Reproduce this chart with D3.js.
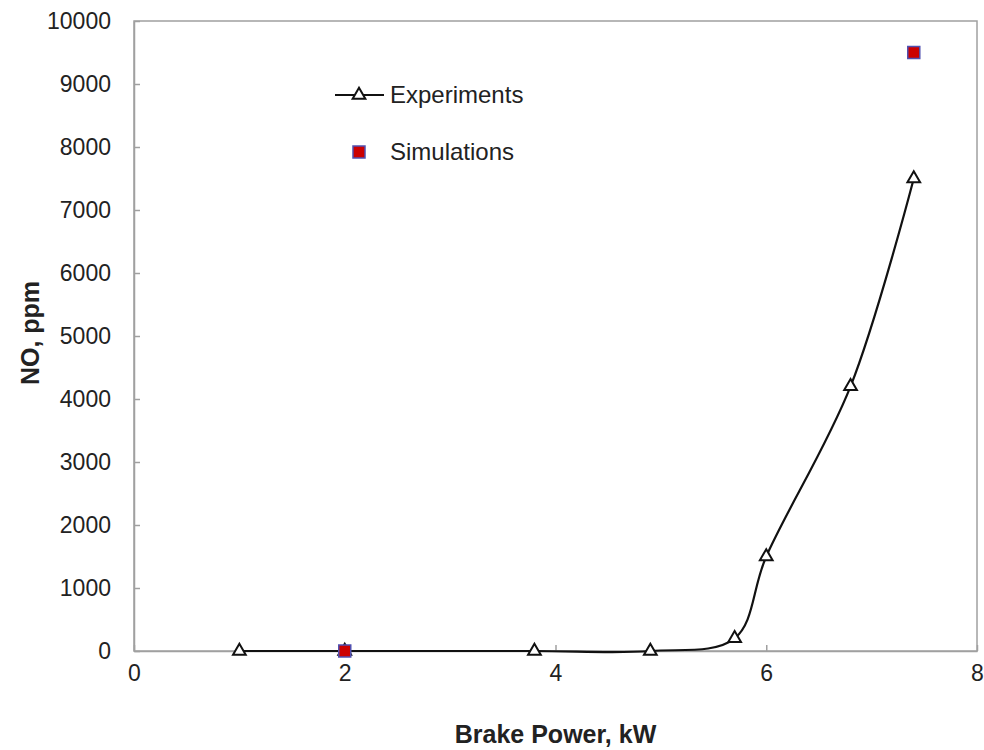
<!DOCTYPE html>
<html>
<head>
<meta charset="utf-8">
<style>
  body { margin: 0; background: #fff; }
  text { font-family: "Liberation Sans", Arial, sans-serif; }
</style>
</head>
<body>
<svg width="984" height="750"></svg>
<script src="https://cdn.jsdelivr.net/npm/d3@7"></script>
<script>
// data
var expPower = [1, 2, 3.8, 4.9, 5.7, 6.0, 6.8, 7.4];
var expNO = [0, 0, 0, 0, 200, 1500, 4200, 7500];
var simPower = [2, 7.4];
var simNO = [0, 9500];
var xTicks = [0, 2, 4, 6, 8];
var yTicks = [0, 1000, 2000, 3000, 4000, 5000, 6000, 7000, 8000, 9000, 10000];

var svgElem = d3.select('svg');
var margin = { left: 134, right: 7, top: 21, bottom: 99 };
var width = +svgElem.attr('width') - margin.left - margin.right;
var height = +svgElem.attr('height') - margin.top - margin.bottom;

var g = svgElem.append('g')
    .attr('transform', `translate(${margin.left}, ${margin.top})`);

var x = d3.scaleLinear().domain([0, 8]).range([0, width]);
var y = d3.scaleLinear().domain([0, 10000]).range([height, 0]);

var axisColor = '#a0a0a0';

// frame
g.append('rect')
    .attr('width', width)
    .attr('height', height)
    .attr('fill', 'none')
    .attr('stroke', axisColor)
    .attr('stroke-width', 1.5);

// x axis, ticks inside
var xAxis = g.append('g')
    .attr('transform', `translate(0, ${height})`)
    .call(d3.axisBottom(x).tickValues(xTicks).tickFormat(d3.format('d'))
        .tickSizeInner(-6).tickSizeOuter(0).tickPadding(14));
// y axis, ticks inside
var yAxis = g.append('g')
    .call(d3.axisLeft(y).tickValues(yTicks).tickFormat(d3.format('d'))
        .tickSizeInner(-6).tickSizeOuter(0).tickPadding(23));

[xAxis, yAxis].forEach(function (ax) {
    ax.select('.domain').attr('stroke', axisColor).attr('stroke-width', 1.5);
    ax.selectAll('.tick line').attr('stroke', axisColor).attr('stroke-width', 1.5);
    ax.selectAll('.tick text')
        .attr('fill', '#222')
        .style('font-size', '23px')
        .style('font-family', '"Liberation Sans", Arial, sans-serif');
});
xAxis.selectAll('.tick text').attr('dy', '0.71em');

// axis titles
svgElem.append('text')
    .attr('x', margin.left + x(4))
    .attr('y', 743)
    .attr('text-anchor', 'middle')
    .attr('font-weight', 'bold')
    .attr('font-size', 25)
    .attr('fill', '#222')
    .text('Brake Power, kW');

svgElem.append('text')
    .attr('transform', 'translate(39, 333) rotate(-90)')
    .attr('text-anchor', 'middle')
    .attr('font-weight', 'bold')
    .attr('font-size', 25)
    .attr('fill', '#222')
    .text('NO, ppm');

// experiments: smoothed line with open triangles
var expData = expPower.map(function (p, i) { return { p: p, v: expNO[i] }; });
var simData = simPower.map(function (p, i) { return { p: p, v: simNO[i] }; });

var line = d3.line()
    .x(function (d) { return x(d.p); })
    .y(function (d) { return y(d.v); })
    .curve(d3.curveCatmullRom.alpha(0.5));

g.append('path')
    .datum(expData)
    .attr('fill', 'none')
    .attr('stroke', '#111')
    .attr('stroke-width', 2.2)
    .attr('d', line);

var tri = d3.symbol().type(d3.symbolTriangle).size(70);

g.selectAll('.exp')
    .data(expData)
    .enter().append('path')
    .attr('class', 'exp')
    .attr('transform', function (d) { return `translate(${x(d.p)}, ${y(d.v)})`; })
    .attr('d', tri)
    .attr('fill', '#fff')
    .attr('stroke', '#111')
    .attr('stroke-width', 2);

// simulations: red squares with blue edge
g.selectAll('.sim')
    .data(simData)
    .enter().append('rect')
    .attr('class', 'sim')
    .attr('x', function (d) { return x(d.p) - 6; })
    .attr('y', function (d) { return y(d.v) - 6; })
    .attr('width', 12)
    .attr('height', 12)
    .attr('fill', '#cc0000')
    .attr('stroke', '#5050b0')
    .attr('stroke-width', 1.5);

// legend
var legend = svgElem.append('g');
legend.append('line')
    .attr('x1', 335).attr('x2', 384)
    .attr('y1', 95).attr('y2', 95)
    .attr('stroke', '#111')
    .attr('stroke-width', 2);
legend.append('path')
    .attr('transform', 'translate(359, 95)')
    .attr('d', tri)
    .attr('fill', '#fff')
    .attr('stroke', '#111')
    .attr('stroke-width', 2);
legend.append('text')
    .attr('x', 390).attr('y', 95)
    .attr('dy', '0.35em')
    .attr('font-size', 24)
    .attr('fill', '#222')
    .text('Experiments');
legend.append('rect')
    .attr('x', 353).attr('y', 146)
    .attr('width', 12).attr('height', 12)
    .attr('fill', '#cc0000')
    .attr('stroke', '#5050b0')
    .attr('stroke-width', 1.5);
legend.append('text')
    .attr('x', 390).attr('y', 152)
    .attr('dy', '0.35em')
    .attr('font-size', 24)
    .attr('fill', '#222')
    .text('Simulations');
</script>
</body>
</html>
